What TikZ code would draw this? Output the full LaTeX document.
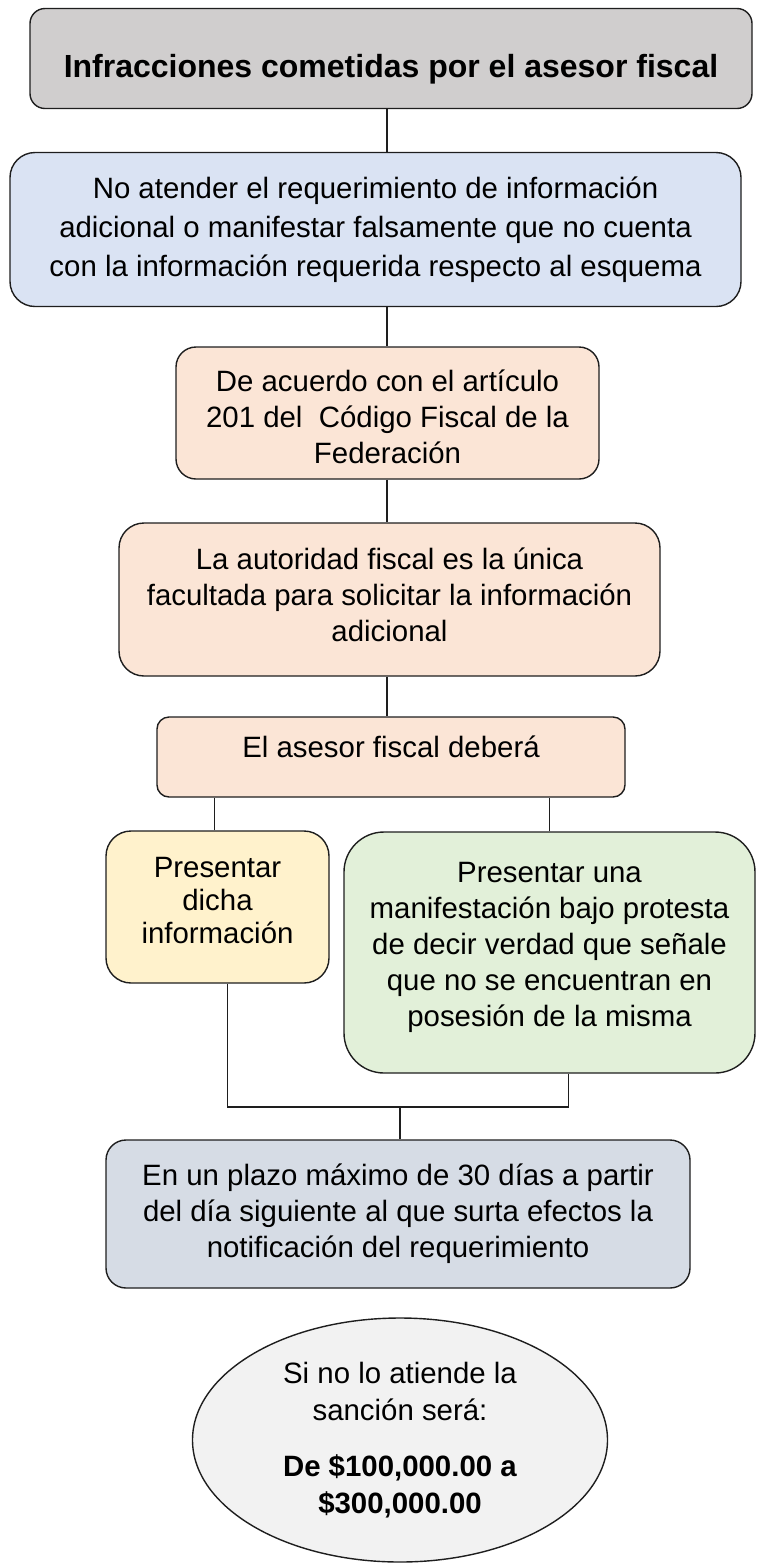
\documentclass[tikz,border=0pt]{standalone}
\usepackage{fontspec}
\setmainfont{Liberation Sans}
\usepackage{xcolor}
\usetikzlibrary{shapes.geometric}

\definecolor{grisTitulo}{HTML}{D0CECE}
\definecolor{azulInfo}{HTML}{DAE3F3}
\definecolor{salmon}{HTML}{FBE5D6}
\definecolor{amarillo}{HTML}{FFF2CC}
\definecolor{verde}{HTML}{E2F0D9}
\definecolor{grisAzul}{HTML}{D6DCE5}
\definecolor{grisClaro}{HTML}{F2F2F2}
\definecolor{borde}{HTML}{1E1E1E}

\tikzset{
    caja/.style={rectangle, draw=borde, line width=1.4pt, align=center, inner sep=0pt,
        font=\fontsize{29.4}{36}\selectfont},
    linea/.style={draw=borde, line width=1.3pt},
}

\begin{document}
\begin{tikzpicture}[x=1pt, y=-1pt]
    \useasboundingbox (0,0) rectangle (757,1564);
    \coordinate (eje) at (387,0);

    \node[caja, fill=grisTitulo, rounded corners=15pt, minimum width=722pt, minimum height=100pt,
        font=\bfseries\fontsize{32}{38}\selectfont, text height=44pt, text depth=7pt] (titulo) at (391,58.5) {Infracciones cometidas por el asesor fiscal};
    \node[caja, fill=azulInfo, rounded corners=25pt, minimum width=731pt, minimum height=154pt,
        font=\fontsize{29.4}{39}\selectfont] (info) at (375.5,229.5) {No atender el requerimiento de información\\adicional o manifestar falsamente que no cuenta\\con la información requerida respecto al esquema};
    \node[caja, fill=salmon, rounded corners=20pt, minimum width=423pt, minimum height=132pt, text height=101pt] (articulo) at (387.5,413) {De acuerdo con el artículo\\201 del \ Código Fiscal de la\\Federación};
    \node[caja, fill=salmon, rounded corners=25pt, minimum width=541pt, minimum height=153pt, text depth=10pt] (autoridad) at (389.5,599.5) {La autoridad fiscal es la única\\facultada para solicitar la información\\adicional};
    \node[caja, fill=salmon, rounded corners=12pt, minimum width=468pt, minimum height=80pt, text depth=20pt] (debera) at (391,757) {El asesor fiscal deberá};
    \node[caja, fill=amarillo, rounded corners=25pt, minimum width=223pt, minimum height=152pt,
        font=\fontsize{29.4}{33}\selectfont, text depth=14pt] (presentar) at (217.5,907) {Presentar\\dicha\\información};
    \node[caja, fill=verde, rounded corners=40pt, minimum width=411pt, minimum height=241pt, text depth=16pt] (manifestar) at (549.5,952.5) {Presentar una\\manifestación bajo protesta\\de decir verdad que señale\\que no se encuentran en\\posesión de la misma};
    \node[caja, fill=grisAzul, rounded corners=20pt, minimum width=584pt, minimum height=148pt] (plazo) at (398,1214) {En un plazo máximo de 30 días a partir\\del día siguiente al que surta efectos la\\notificación del requerimiento};
    \node[caja, ellipse, fill=grisClaro, minimum width=415pt, minimum height=244pt,
        font=\fontsize{29.4}{37}\selectfont] (sancion) at (400,1440) {Si no lo atiende la\\sanción será:\\[19pt]\textbf{De \$100,000.00 a}\\\textbf{\$300,000.00}};

    \coordinate (union) at (400,1107);

    \draw[linea] (titulo.south -| eje) -- (info.north -| eje);
    \draw[linea] (info.south -| eje) -- (articulo.north -| eje);
    \draw[linea] (articulo.south -| eje) -- (autoridad.north -| eje);
    \draw[linea] (autoridad.south -| eje) -- (debera.north -| eje);
    \draw[linea] ([xshift=-3pt]presentar.north) -- ([xshift=-3pt]presentar.north |- debera.south);
    \draw[linea] (manifestar.north) -- (manifestar.north |- debera.south);
    \draw[linea] ([xshift=10pt]presentar.south) |- (union) -| ([xshift=19pt]manifestar.south);
    \draw[linea] (union) -- (union |- plazo.north);
\end{tikzpicture}
\end{document}
